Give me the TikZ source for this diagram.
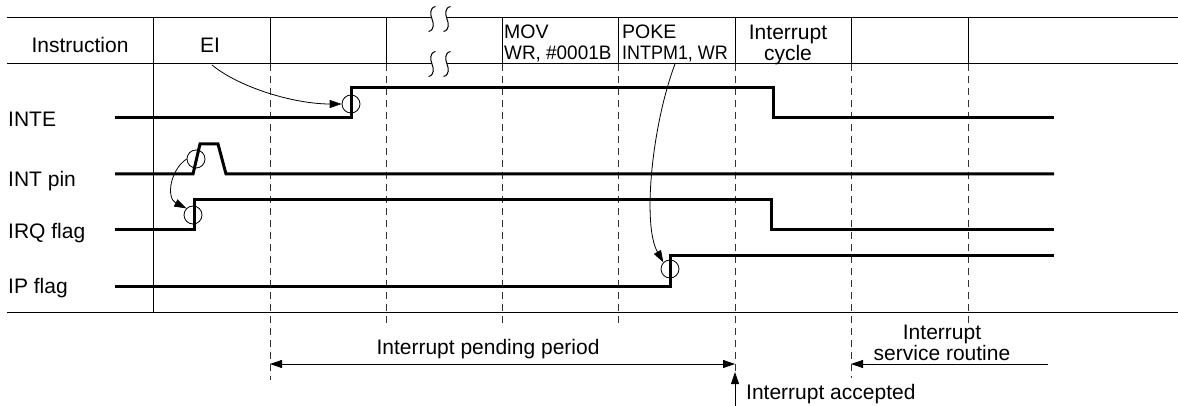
\documentclass[tikz,border=0pt]{standalone}
\usepackage{fontspec}
\setmainfont{Liberation Sans}
\usetikzlibrary{arrows.meta}
\newcommand\breakmark[2]{%
  \draw[thinln] (#1+3.5,#2-12.5) .. controls (#1-3,#2-11) and (#1-1.5,#2-4) .. (#1,#2)
     .. controls (#1+1.5,#2+4) and (#1+3,#2+11) .. (#1-3.5,#2+12.5);}
\begin{document}
\begin{tikzpicture}[x=1pt,y=-1pt,
  thinln/.style={line width=1pt},
  sig/.style={line width=3pt, line join=miter},
  gridln/.style={line width=0.9pt, dash pattern=on 7pt off 5pt, black!80},
  circ/.style={circle, draw, line width=0.8pt, minimum size=18pt, inner sep=0pt},
  conn/.style={line width=0.8pt, -{Triangle[length=12pt,width=8pt]}},
  lbl/.style={inner sep=0pt, font=\fontsize{21}{21}\selectfont},
  instr/.style={inner sep=0pt, font=\fontsize{19.5}{21}\selectfont},
]
\useasboundingbox (0,0) rectangle (1178,406);

% table frame
\draw[thinln] (7,18) -- (432,18);
\draw[thinln] (447,18) -- (1178,18);
\draw[thinln] (7,64) -- (432,64);
\draw[thinln] (447,64) -- (1178,64);
\draw[thinln] (7,312) -- (1178,312);
\draw[thinln] (153,18) -- (153,312);
\breakmark{432}{19}
\breakmark{447}{19}
\breakmark{432}{64}
\breakmark{447}{64}

% header separators (solid) and time grid (dashed)
\foreach \x in {270,386,502,618,735,851,968} \draw[thinln] (\x,18) -- (\x,64);
\draw[gridln] (270,64) -- (270,380);
\draw[gridln] (386,64) -- (386,324);
\draw[gridln] (502,64) -- (502,324);
\draw[gridln] (618,64) -- (618,325);
\draw[gridln] (735,64) -- (735,372);
\draw[gridln] (851,64) -- (851,378);
\draw[gridln] (968,64) -- (968,325);

% header texts
\node[lbl, anchor=base] (instr) at (80,53) {Instruction};
\node[lbl, anchor=base] (ei) at (210,53) {EI};
\node[instr, anchor=north west, align=left] (mov) at (504,25) {MOV\\\scalebox{0.97}[1]{WR, \#0001B}};
\node[instr, anchor=north west, align=left] (poke) at (622,25) {POKE\\\scalebox{0.92}[1]{INTPM1, WR}};
\node[lbl, anchor=north, align=center] (icyc) at (788,25) {Interrupt\\cycle};

% signal labels
\node[lbl, anchor=base west] (linte) at (8,127) {INTE};
\node[lbl, anchor=base west] (lint) at (8,187) {INT pin};
\node[lbl, anchor=base west] (lirq) at (8,239) {IRQ flag};
\node[lbl, anchor=base west] (lip) at (8,293) {IP flag};

% signals
\draw[sig] (115,118) -- (351,118) -- (351,88) -- (773,88) -- (773,118) -- (1054,118);
\draw[sig] (115,174) -- (193,174) -- (200,144) -- (218,144) -- (226,174) -- (1054,174);
\draw[sig] (115,230) -- (194,230) -- (194,200) -- (771,200) -- (771,230) -- (1054,230);
\draw[sig] (115,286) -- (670,286) -- (670,255) -- (1054,255);

% edge markers
\node[circ] (cInte) at (351,104) {};
\node[circ] (cInt) at (196,159) {};
\node[circ] (cIrq) at (193,215) {};
\node[circ] (cIp) at (670,269) {};

% cause arrows
\coordinate (eiTail) at (212,65);
\coordinate (pokeTail) at (675,64);
\draw[conn] (eiTail) .. controls (240,88) and (295,104) .. (cInte.west);
\draw[conn] (cInt.west) .. controls (170,170) and (166,198) .. (cIrq.north west);
\draw[conn] (pokeTail) .. controls (652,125) and (642,225) .. (cIp.north west);

% bottom annotations
\coordinate (pendL) at (270,364);
\coordinate (pendR) at (735,364);
\draw[line width=0.8pt, {Triangle[length=12pt,width=8pt]}-{Triangle[length=12pt,width=8pt]}] (pendL) -- (pendR);
\node[lbl, anchor=base] (pend) at (488,354) {Interrupt pending period};

\coordinate (accTail) at (735,406);
\coordinate (accHead) at (735,372);
\draw[conn] (accTail) -- (accHead);
\node[lbl, anchor=base west] (acc) at (746,399) {Interrupt accepted};

\coordinate (isrTail) at (1048,364);
\coordinate (isrHead) at (851,364);
\draw[conn] (isrTail) -- (isrHead);
\node[lbl, anchor=north, align=center] (isr) at (942,325) {Interrupt\\service routine};
\end{tikzpicture}
\end{document}
